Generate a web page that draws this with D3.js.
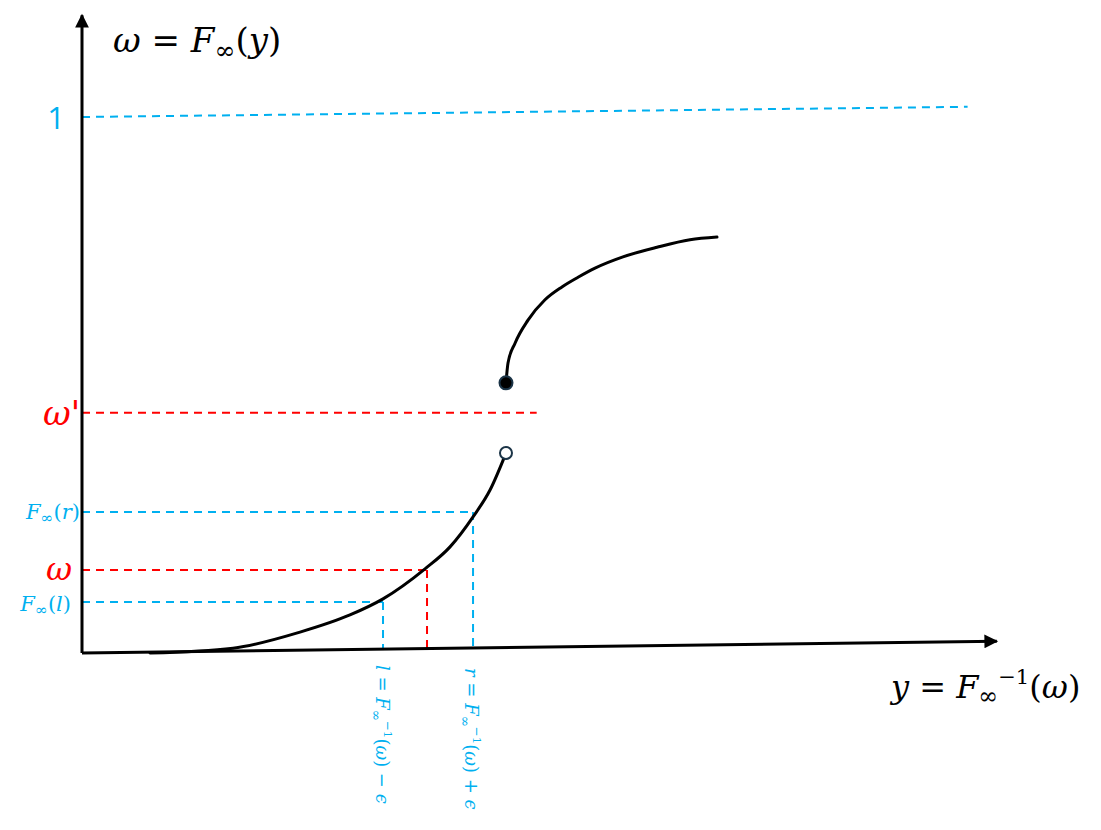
<!DOCTYPE html>
<html>
<head>
<meta charset="utf-8">
<script src="https://cdn.jsdelivr.net/npm/d3@7"></script>
<style>
  html, body { margin: 0; padding: 0; background: #fff; }
  svg { display: block; }
</style>
</head>
<body>
<div id="chart"></div>
<script>
'use strict';

// data, in (y, omega) units: y runs 0..10 along the horizontal axis, omega 0..1 up the vertical one
const lowerCurve = [[0.745, 0], [1.654, 0.009], [2.388, 0.039], [2.935, 0.071], [3.297, 0.101],
  [3.757, 0.157], [4.031, 0.198], [4.283, 0.254], [4.469, 0.304], [4.644, 0.373]];
const upperCurve = [[4.644, 0.504], [4.666, 0.541], [4.743, 0.578], [4.885, 0.621], [5.071, 0.659],
  [5.257, 0.683], [5.433, 0.701], [5.619, 0.718], [5.925, 0.739], [6.298, 0.757], [6.659, 0.771], [6.955, 0.776]];
const jumpPoints = [[4.644, 0.373, 'open'], [4.644, 0.504, 'filled']];
// horizontal axis drawn slightly tilted, like the hand drawn original
const xAxisLine = [[0, 0], [10.02, 0.022]];
const yAxisLine = [[0, 0], [0, 1.19]];
const oneLine = [[0, 1], [9.7, 1.019]];
const omegaPrime = { level: 0.448, end: 4.98 };
// guides: level on the omega axis, where they hit the curve
const guides = [
  { name: 'Fl', level: 0.095, at: 3.297, kind: 'blue' },
  { name: 'w', level: 0.155, at: 3.779, kind: 'red' },
  { name: 'Fr', level: 0.263, at: 4.283, kind: 'blue' }
];

const width = 1101;
const height = 830;
const blue = '#00b0f0';
const red = '#ff0000';
const mathFont = '"DejaVu Serif", "Liberation Serif", serif';

const svg = d3.select('#chart').append('svg')
  .attr('width', width)
  .attr('height', height);

const xScale = d3.scaleLinear().domain([0, 10]).range([82, 995]);
const yScale = d3.scaleLinear().domain([0, 1]).range([653, 117]);

const line = d3.line().x(d => xScale(d[0])).y(d => yScale(d[1]));
const curve = d3.line().x(d => xScale(d[0])).y(d => yScale(d[1])).curve(d3.curveMonotoneX);

// arrow head marker
svg.append('defs').append('marker')
  .attr('id', 'arrow')
  .attr('viewBox', '0 0 10 10')
  .attr('refX', 9)
  .attr('refY', 5)
  .attr('markerWidth', 5.5)
  .attr('markerHeight', 4.6)
  .attr('markerUnits', 'strokeWidth')
  .attr('orient', 'auto')
  .append('path')
  .attr('d', 'M0,0 L10,5 L0,10 Z')
  .attr('fill', '#000');

//dashed guide lines first, so the curve sits on top
const dash = '8,6';

svg.append('path')
  .attr('d', line(oneLine))
  .attr('fill', 'none')
  .attr('stroke', blue)
  .attr('stroke-width', 2)
  .attr('stroke-dasharray', dash);

svg.append('path')
  .attr('d', line([[0, omegaPrime.level], [omegaPrime.end, omegaPrime.level]]))
  .attr('fill', 'none')
  .attr('stroke', red)
  .attr('stroke-width', 2)
  .attr('stroke-dasharray', dash);

guides.forEach(g => {
  const col = g.kind === 'red' ? red : blue;
  svg.append('path')
    .attr('d', line([[0, g.level], [g.at, g.level]]))
    .attr('fill', 'none')
    .attr('stroke', col)
    .attr('stroke-width', 2)
    .attr('stroke-dasharray', dash);
  svg.append('path')
    .attr('d', line([[g.at, g.level], [g.at, 0.006]]))
    .attr('fill', 'none')
    .attr('stroke', col)
    .attr('stroke-width', 2)
    .attr('stroke-dasharray', dash);
});

// axes
svg.append('path')
  .attr('d', line(xAxisLine))
  .attr('fill', 'none')
  .attr('stroke', '#000')
  .attr('stroke-width', 3)
  .attr('marker-end', 'url(#arrow)');
svg.append('path')
  .attr('d', line(yAxisLine))
  .attr('fill', 'none')
  .attr('stroke', '#000')
  .attr('stroke-width', 3)
  .attr('marker-end', 'url(#arrow)');

// the two pieces of the distribution function
[lowerCurve, upperCurve].forEach(c => {
  svg.append('path')
    .attr('d', curve(c))
    .attr('fill', 'none')
    .attr('stroke', '#000')
    .attr('stroke-width', 3)
    .attr('stroke-linecap', 'round');
});

svg.selectAll('circle.jump')
  .data(jumpPoints)
  .enter()
  .append('circle')
  .attr('class', 'jump')
  .attr('cx', d => xScale(d[0]))
  .attr('cy', d => yScale(d[1]))
  .attr('r', d => d[2] === 'filled' ? 6.5 : 6)
  .attr('fill', d => d[2] === 'filled' ? '#000' : '#fff')
  .attr('stroke', '#1b3447')
  .attr('stroke-width', 2);

// math labels: parts are [text, style] with style i = italic, n = upright, b = sub, p = sup, q = prime
function mathLabel(x, y, size, color, parts, rot, anchor) {
  const g = svg.append('g')
    .attr('transform', `translate(${x},${y})` + (rot ? ` rotate(${rot})` : ''));
  const t = g.append('text')
    .attr('font-family', mathFont)
    .attr('font-size', size)
    .attr('fill', color)
    .attr('text-anchor', anchor || 'start');
  let shift = 0;
  parts.forEach(p => {
    const s = p[1];
    let target = 0;
    if (s === 'b') target = 0.2 * size;
    if (s === 'p') target = -0.45 * size;
    const ts = t.append('tspan')
      .text(p[0])
      .attr('dy', target - shift)
      .attr('font-style', (s === 'i') ? 'italic' : 'normal')
      .attr('font-size', (s === 'b') ? size * 0.74 : (s === 'p') ? size * 0.66 : size);
    if (s === 'q') ts.attr('font-family', '"DejaVu Sans", sans-serif');
    shift = target;
  });
  return t;
}

mathLabel(113, 52, 34, '#000', [['ω', 'i'], [' = ', 'n'], ['F', 'i'], ['∞', 'b'], ['(', 'n'], ['y', 'i'], [')', 'n']]);
mathLabel(891, 698, 32, '#000', [['y', 'i'], [' = ', 'n'], ['F', 'i'], ['∞', 'b'], ['−1', 'p'], ['(', 'n'], ['ω', 'i'], [')', 'n']]);

svg.append('text')
  .attr('x', xScale(0) - 17)
  .attr('y', yScale(1) + 12)
  .attr('text-anchor', 'end')
  .attr('font-family', '"Open Sans", "Liberation Sans", sans-serif')
  .attr('font-size', 31)
  .attr('fill', blue)
  .text('1');

mathLabel(xScale(0) - 2, yScale(omegaPrime.level) + 12, 34, red, [['ω', 'i'], ['\'', 'q']], 0, 'end');
mathLabel(xScale(0) - 10, yScale(0.155) + 10, 32, red, [['ω', 'i']], 0, 'end');
mathLabel(xScale(0) - 2, yScale(0.263) + 7, 21, blue, [['F', 'i'], ['∞', 'b'], ['(', 'n'], ['r', 'i'], [')', 'n']], 0, 'end');
mathLabel(xScale(0) - 11, yScale(0.095) + 9, 21, blue, [['F', 'i'], ['∞', 'b'], ['(', 'n'], ['l', 'i'], [')', 'n']], 0, 'end');

// rotated labels under the horizontal axis
mathLabel(xScale(guides[0].at) - 7, 665, 18, blue,
  [['l', 'i'], [' = ', 'n'], ['F', 'i'], ['∞', 'b'], ['−1', 'p'], ['(', 'n'], ['ω', 'i'], [') − ', 'n'], ['ϵ', 'i']], 90);
mathLabel(xScale(guides[2].at) - 8, 668, 18, blue,
  [['r', 'i'], [' = ', 'n'], ['F', 'i'], ['∞', 'b'], ['−1', 'p'], ['(', 'n'], ['ω', 'i'], [') + ', 'n'], ['ϵ', 'i']], 90);
</script>
</body>
</html>
